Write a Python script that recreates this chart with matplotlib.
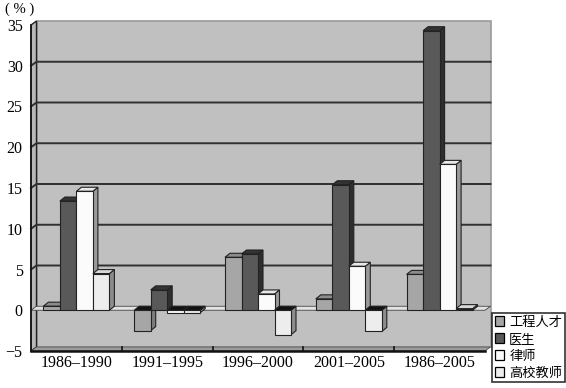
import numpy as np
import matplotlib
matplotlib.use("Agg")
import matplotlib.pyplot as plt
from matplotlib.patches import Polygon, Patch

plt.rcParams['font.family'] = ['Liberation Serif', 'Noto Sans CJK SC']

# data
periods = ["1986–1990", "1991–1995", "1996–2000", "2001–2005", "1986–2005"]
series = ["工程人才", "医生", "律师", "高校教师"]
engineers = [0.5, -2.5, 6.5, 1.4, 4.4]
doctors = [13.4, 2.5, 6.9, 15.4, 34.3]
lawyers = [14.6, -0.3, 2.0, 5.4, 17.9]
teachers = [4.5, -0.3, -3.0, -2.6, 0.2]
yticks = [-5, 0, 5, 10, 15, 20, 25, 30, 35]
ytick_labels = ["−5", "0", "5", "10", "15", "20", "25", "30", "35"]

values = [engineers, doctors, lawyers, teachers]
# (front, top, side) colours per series
faces = [("#a6a6a6", "#8c8c8c", "#7c7c7c"),
         ("#595959", "#333333", "#2e2e2e"),
         ("#fbfbfb", "#e8e8e8", "#9a9a9a"),
         ("#ededed", "#d8d8d8", "#8c8c8c")]

W, H = 566, 388
fig = plt.figure(figsize=(W / 100, H / 100), dpi=100)

# pixel geometry of the 3-D box
px_cat = 90.8          # px per category
px_unit = 8.15         # px per y unit
ax_l, ax_r = 31, 491
ax_b, ax_t = 351, 21
x0, x1 = -0.5, 4.5
ymin, ymax = -5, 35
DX = 5.5 / px_cat
DY = 4 / px_unit
bDX = 5 / px_cat
bDY = 4 / px_unit

ax = fig.add_axes([ax_l / W, 1 - ax_b / H, (ax_r - ax_l) / W, (ax_b - ax_t) / H])
ax.set_xlim(x0, x0 + (ax_r - ax_l) / px_cat)
ax.set_ylim(ymin, ymin + (ax_b - ax_t) / px_unit)
for s in ax.spines.values():
    s.set_visible(False)


def poly(pts, fc, ec="#222222", lw=0.8, z=1):
    ax.add_patch(Polygon(pts, closed=True, fc=fc, ec=ec, lw=lw, zorder=z,
                         clip_on=False, joinstyle="miter"))


# back wall
poly([(x0 + DX, ymin + DY), (x1 + DX, ymin + DY), (x1 + DX, ymax + DY), (x0 + DX, ymax + DY)],
     "#c0c0c0", ec="#9a9a9a", lw=1.2, z=0.5)
# left wall
poly([(x0, ymin), (x0 + DX, ymin + DY), (x0 + DX, ymax + DY), (x0, ymax)],
     "#b8b8b8", ec="#222222", lw=1.0, z=0.6)
# gridlines across left wall and back wall
for v in yticks[2:-1]:
    ax.plot([x0, x0 + DX, x1 + DX], [v, v + DY, v + DY], color="#303030", lw=1.4,
            zorder=0.7, clip_on=False)
# bottom floor
poly([(x0, ymin), (x1, ymin), (x1 + DX, ymin + DY), (x0 + DX, ymin + DY)],
     "#9c9c9c", ec="#555555", lw=0.6, z=0.8)
ax.plot([x0, x1], [ymin, ymin], color="#111111", lw=1.8, zorder=0.9, clip_on=False)
for b in np.arange(x0, x1 + 0.01, 1.0)[1:-1]:
    ax.plot([b, b], [ymin, ymin + DY * 0.9], color="#111111", lw=1.2, zorder=0.9)
# floor at zero
poly([(x0, 0), (x1, 0), (x1 + DX, DY), (x0 + DX, DY)], "#e2e2e2", ec="#444444", lw=0.6, z=0.9)
ax.plot([x0, x0], [ymin, ymax], color="#111111", lw=1.2, zorder=0.9, clip_on=False)

# bars
bw = 16.5 / px_cat
for i in range(len(periods)):
    for j in range(len(series)):
        v = values[j][i]
        fc, tc, sc = faces[j]
        xl = i + (j - 2) * bw
        xr = xl + bw
        lo, hi = min(0, v), max(0, v)
        z = 2 + i * 0.1 + j * 0.01
        # side face
        poly([(xr, lo), (xr + bDX, lo + bDY), (xr + bDX, hi + bDY), (xr, hi)], sc, z=z)
        # top face
        top_c = tc if v >= 0 else "#111111"
        poly([(xl, hi), (xr, hi), (xr + bDX, hi + bDY), (xl + bDX, hi + bDY)], top_c, z=z)
        # front face
        poly([(xl, lo), (xr, lo), (xr, hi), (xl, hi)], fc, z=z + 0.001)

ax.set_xticks(range(len(periods)))
ax.set_xticklabels(periods, fontsize=11.5)
ax.set_yticks(yticks)
ax.set_yticklabels(ytick_labels, fontsize=11.5)
ax.tick_params(axis="both", length=0)
ax.tick_params(axis="x", pad=3)
ax.tick_params(axis="y", pad=6)

fig.text(20 / W, 1 - 9 / H, "( % )", fontsize=10.5, ha="center", va="center")

handles = [Patch(fc=faces[j][0], ec="black", lw=0.9) for j in range(len(series))]
leg = fig.legend(handles, series, loc="upper left", bbox_to_anchor=(492 / W, 1 - 313 / H),
                 handlelength=0.7, handleheight=0.7, handletextpad=0.4,
                 labelspacing=0.3, borderpad=0.2, borderaxespad=0, frameon=True,
                 fancybox=False, prop={"family": "Noto Sans CJK SC", "size": 9.5})
leg.get_frame().set_edgecolor("black")
leg.get_frame().set_linewidth(1.2)

fig.savefig("out.png", dpi=100)
